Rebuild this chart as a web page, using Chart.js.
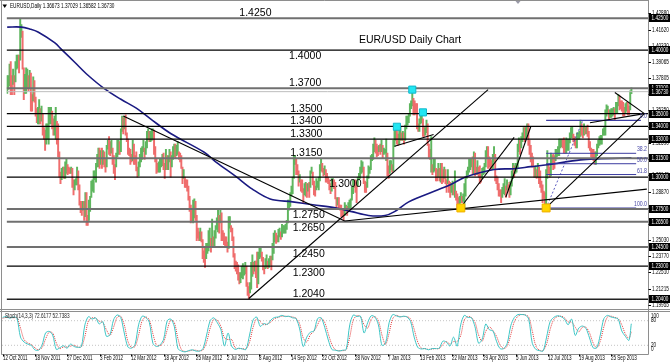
<!DOCTYPE html>
<html>
<head>
<meta charset="utf-8">
<script src="https://cdn.jsdelivr.net/npm/chart.js@4.4.1/dist/chart.umd.min.js"></script>
<style>
  html, body { margin:0; padding:0; background:#fff; }
  body { width:670px; height:362px; overflow:hidden; position:relative; }
  canvas { position:absolute; left:0; display:block; }
  #main { top:0; }
  #stoch { top:311px; }
</style>
</head>
<body>
<canvas id="main" width="670" height="311"></canvas>
<canvas id="stoch" width="670" height="51"></canvas>
<script>
// ================= DATA =================
const symbol = 'EURUSD,Daily';
const lastBarOHLC = [1.36673, 1.37029, 1.36582, 1.36730];
const currentPrice = 1.36730;
const chartTitle = 'EUR/USD Daily Chart';

// daily lows / highs, 12 Oct 2011 .. 18 Oct 2013 (one row per week)
const lows = [
1.3660,1.3690,1.3720,
1.3650,1.3650,1.3730,1.3650,1.3750,
1.3850,1.3860,1.3820,1.3920,1.4100,
1.3850,1.3610,1.3660,1.3660,1.3700,
1.3680,1.3700,1.3520,1.3520,1.3600,
1.3590,1.3480,1.3430,1.3420,1.3420,
1.3420,1.3440,1.3330,1.3300,1.3210,
1.3260,1.3300,1.3260,1.3420,1.3420,
1.3380,1.3330,1.3330,1.3300,1.3260,
1.3160,1.3000,1.2950,1.2980,1.3000,
1.2990,1.2990,1.3030,1.3020,1.3030,
1.3030,1.3030,1.2920,1.2860,1.2900,
1.2940,1.2940,1.2900,1.2780,1.2720,
1.2700,1.2740,1.2660,1.2690,1.2620,
1.2620,1.2660,1.2730,1.2840,1.2890,
1.2880,1.2980,1.2960,1.3080,1.3080,
1.3070,1.3100,1.3070,1.3100,1.3080,
1.3040,1.3080,1.3220,1.3180,1.3170,
1.3190,1.3100,1.3030,1.2980,1.3080,
1.3160,1.3180,1.3180,1.3200,1.3360,
1.3340,1.3380,1.3330,1.3280,1.3180,
1.3170,1.3100,1.3120,1.3130,1.3100,
1.3100,1.3050,1.3000,1.3010,1.3080,
1.3120,1.3140,1.3200,1.3140,1.3180,
1.3230,1.3300,1.3280,1.3280,1.3290,
1.3300,1.3180,1.3120,1.3030,1.3040,
1.3040,1.3040,1.3080,1.3090,1.3060,
1.2990,1.3060,1.3060,1.3060,1.3120,
1.3000,1.3080,1.3140,1.3160,1.3150,
1.3170,1.3180,1.3140,1.3120,1.3070,
1.2950,1.2990,1.2920,1.2920,1.2890,
1.2820,1.2730,1.2640,1.2650,1.2640,
1.2680,1.2660,1.2500,1.2520,1.2500,
1.2500,1.2490,1.2360,1.2330,1.2290,
1.2360,1.2400,1.2420,1.2450,1.2410,
1.2450,1.2450,1.2450,1.2520,1.2590,
1.2570,1.2560,1.2640,1.2500,1.2500,
1.2470,1.2460,1.2450,1.2410,1.2440,
1.2600,1.2570,1.2500,1.2370,1.2280,
1.2260,1.2240,1.2190,1.2160,1.2170,
1.2210,1.2200,1.2230,1.2240,1.2140,
1.2070,1.2040,1.2090,1.2120,1.2220,
1.2240,1.2260,1.2210,1.2130,1.2160,
1.2360,1.2370,1.2340,1.2270,1.2240,
1.2280,1.2290,1.2280,1.2290,1.2310,
1.2270,1.2350,1.2400,1.2490,1.2480,
1.2490,1.2490,1.2530,1.2510,1.2530,
1.2560,1.2560,1.2560,1.2590,1.2640,
1.2740,1.2770,1.2850,1.2870,1.2990,
1.3100,1.3020,1.3020,1.2930,1.2960,
1.2890,1.2880,1.2800,1.2860,1.2850,
1.2840,1.2890,1.2840,1.2920,1.3030,
1.2940,1.2860,1.2850,1.2900,1.2920,
1.2900,1.2970,1.3050,1.3040,1.3010,
1.3020,1.2960,1.2960,1.2950,1.2900,
1.2870,1.2890,1.2930,1.2910,1.2830,
1.2760,1.2780,1.2760,1.2740,1.2690,
1.2690,1.2660,1.2700,1.2740,1.2700,
1.2740,1.2740,1.2760,1.2820,1.2870,
1.2920,1.2880,1.2800,1.2930,1.2980,
1.2990,1.3030,1.3040,1.2950,1.2880,
1.2880,1.2920,1.2990,1.3030,1.3060,
1.3130,1.3140,1.3200,1.3190,1.3160,
1.3170,1.3200,1.3180,1.3200,1.3150,
1.3180,1.3190,1.3130,1.3010,1.2990,
1.3030,1.3060,1.3040,1.3050,1.3240,
1.3290,1.3260,1.3250,1.3260,1.3290,
1.3290,1.3290,1.3260,1.3290,1.3380,
1.3410,1.3430,1.3480,1.3540,1.3560,
1.3490,1.3490,1.3500,1.3380,1.3360,
1.3360,1.3420,1.3430,1.3320,1.3320,
1.3330,1.3350,1.3250,1.3150,1.3140,
1.3040,1.3020,1.3040,1.3050,1.2970,
1.2970,1.3000,1.2970,1.2960,1.2950,
1.2960,1.2990,1.2950,1.2880,1.2950,
1.2880,1.2840,1.2880,1.2860,1.2860,
1.2840,1.2820,1.2750,1.2760,1.2780,
1.2800,1.2800,1.2810,1.2750,1.2850,
1.2990,1.3020,1.3040,1.3060,1.3080,
1.3020,1.3020,1.3010,1.3020,1.3020,
1.3000,1.2950,1.2960,1.2990,1.3020,
1.3030,1.3080,1.3150,1.3070,1.3080,
1.3060,1.3060,1.3060,1.3120,1.2970,
1.2950,1.2900,1.2850,1.2850,1.2800,
1.2840,1.2870,1.2860,1.2840,1.2900,
1.2890,1.2840,1.2860,1.2930,1.2990,
1.3000,1.3030,1.3040,1.3070,1.3200,
1.3180,1.3230,1.3280,1.3300,1.3280,
1.3300,1.3340,1.3250,1.3180,1.3120,
1.3080,1.3080,1.3000,1.3000,1.2990,
1.3000,1.2950,1.2920,1.2880,1.2800,
1.2830,1.2750,1.2770,1.2990,1.3030,
1.3000,1.3010,1.3100,1.3060,1.3070,
1.3130,1.3160,1.3170,1.3170,1.3230,
1.3240,1.3230,1.3190,1.3190,1.3190,
1.3210,1.3210,1.3270,1.3310,1.3310,
1.3280,1.3250,1.3230,1.3230,1.3300,
1.3300,1.3320,1.3330,1.3310,1.3330,
1.3340,1.3340,1.3320,1.3230,1.3210,
1.3160,1.3150,1.3130,1.3100,1.3100,
1.3170,1.3230,1.3250,1.3260,1.3260,
1.3330,1.3330,1.3330,1.3480,1.3500,
1.3460,1.3470,1.3470,1.3480,1.3490,
1.3450,1.3500,1.3500,1.3560,1.3530,
1.3540,1.3520,1.3480,1.3480,1.3500,
1.3520,1.3490,1.3490,1.3530,1.3658
];
const highs = [
1.3800,1.3800,1.3890,
1.3910,1.3800,1.3850,1.3800,1.3910,
1.3960,1.3960,1.3960,1.4247,1.4200,
1.4150,1.3860,1.3810,1.3860,1.3850,
1.3800,1.3840,1.3820,1.3650,1.3790,
1.3760,1.3630,1.3540,1.3550,1.3610,
1.3540,1.3560,1.3500,1.3390,1.3370,
1.3420,1.3420,1.3550,1.3550,1.3550,
1.3520,1.3460,1.3480,1.3550,1.3440,
1.3420,1.3200,1.3040,1.3070,1.3080,
1.3080,1.3120,1.3140,1.3100,1.3080,
1.3070,1.3080,1.3070,1.2980,1.2980,
1.2990,1.3080,1.3050,1.2940,1.2810,
1.2810,1.2810,1.2810,1.2880,1.2880,
1.2700,1.2820,1.2850,1.2970,1.2980,
1.3050,1.3050,1.3110,1.3180,1.3230,
1.3230,1.3210,1.3230,1.3210,1.3200,
1.3140,1.3250,1.3290,1.3320,1.3280,
1.3290,1.3230,1.3170,1.3100,1.3190,
1.3290,1.3290,1.3280,1.3380,1.3480,
1.3470,1.3480,1.3490,1.3350,1.3300,
1.3230,1.3220,1.3180,1.3290,1.3260,
1.3170,1.3200,1.3080,1.3120,1.3180,
1.3230,1.3240,1.3290,1.3230,1.3280,
1.3360,1.3380,1.3360,1.3360,1.3380,
1.3380,1.3370,1.3240,1.3140,1.3110,
1.3120,1.3140,1.3140,1.3180,1.3190,
1.3110,1.3220,1.3170,1.3170,1.3220,
1.3200,1.3170,1.3240,1.3260,1.3260,
1.3250,1.3280,1.3200,1.3190,1.3170,
1.3080,1.3060,1.3000,1.2980,1.2980,
1.2930,1.2850,1.2780,1.2750,1.2820,
1.2830,1.2810,1.2700,1.2600,1.2570,
1.2600,1.2570,1.2510,1.2420,1.2450,
1.2480,1.2480,1.2580,1.2600,1.2520,
1.2670,1.2530,1.2580,1.2620,1.2680,
1.2750,1.2700,1.2740,1.2720,1.2580,
1.2560,1.2530,1.2530,1.2490,1.2690,
1.2690,1.2620,1.2600,1.2530,1.2400,
1.2340,1.2330,1.2310,1.2250,1.2250,
1.2300,1.2320,1.2300,1.2330,1.2300,
1.2170,1.2140,1.2170,1.2330,1.2390,
1.2330,1.2340,1.2340,1.2410,1.2410,
1.2440,1.2440,1.2410,1.2370,1.2300,
1.2360,1.2390,1.2340,1.2360,1.2380,
1.2380,1.2480,1.2560,1.2580,1.2560,
1.2540,1.2590,1.2600,1.2570,1.2630,
1.2620,1.2620,1.2630,1.2660,1.2820,
1.2820,1.2880,1.2930,1.3000,1.3170,
1.3170,1.3140,1.3100,1.3050,1.3020,
1.2980,1.2980,1.2910,1.2950,1.2960,
1.2950,1.2950,1.2960,1.3050,1.3080,
1.3040,1.2970,1.2930,1.2990,1.2970,
1.3000,1.3100,1.3140,1.3110,1.3070,
1.3090,1.3060,1.3030,1.3000,1.2980,
1.2950,1.2990,1.2990,1.2980,1.2960,
1.2840,1.2840,1.2840,1.2780,1.2780,
1.2740,1.2740,1.2800,1.2780,1.2770,
1.2800,1.2820,1.2830,1.2920,1.2980,
1.2980,1.2980,1.2960,1.3000,1.3030,
1.3080,1.3130,1.3120,1.3080,1.2970,
1.2960,1.3010,1.3090,1.3080,1.3170,
1.3180,1.3260,1.3310,1.3290,1.3260,
1.3240,1.3250,1.3260,1.3290,1.3250,
1.3230,1.3220,1.3300,1.3190,1.3090,
1.3130,1.3130,1.3100,1.3290,1.3370,
1.3400,1.3400,1.3340,1.3390,1.3400,
1.3350,1.3360,1.3350,1.3410,1.3480,
1.3480,1.3500,1.3580,1.3600,1.3710,
1.3620,1.3600,1.3580,1.3580,1.3420,
1.3460,1.3480,1.3520,1.3460,1.3390,
1.3390,1.3450,1.3420,1.3260,1.3220,
1.3320,1.3100,1.3140,1.3140,1.3070,
1.3060,1.3110,1.3070,1.3110,1.3110,
1.3060,1.3080,1.3060,1.2980,1.3060,
1.2970,1.2960,1.2950,1.2970,1.2940,
1.3050,1.2890,1.2870,1.2840,1.2850,
1.2880,1.2850,1.2870,1.2950,1.3000,
1.3050,1.3080,1.3140,1.3140,1.3140,
1.3160,1.3200,1.3190,1.3080,1.3130,
1.3080,1.3090,1.3020,1.3070,1.3080,
1.3110,1.3210,1.3240,1.3240,1.3160,
1.3140,1.3130,1.3180,1.3240,1.3180,
1.3010,1.3000,1.2950,1.2900,1.2900,
1.2920,1.2950,1.2990,1.2930,1.2980,
1.2940,1.2960,1.2970,1.3050,1.3110,
1.3090,1.3110,1.3110,1.3260,1.3310,
1.3290,1.3320,1.3350,1.3390,1.3390,
1.3390,1.3420,1.3420,1.3290,1.3250,
1.3190,1.3160,1.3080,1.3090,1.3060,
1.3110,1.3080,1.3050,1.2970,1.2940,
1.2890,1.2880,1.3060,1.3210,1.3100,
1.3080,1.3190,1.3170,1.3180,1.3170,
1.3220,1.3220,1.3240,1.3300,1.3300,
1.3300,1.3300,1.3310,1.3290,1.3310,
1.3300,1.3300,1.3350,1.3390,1.3400,
1.3340,1.3320,1.3300,1.3350,1.3350,
1.3360,1.3450,1.3420,1.3390,1.3420,
1.3390,1.3400,1.3410,1.3360,1.3280,
1.3230,1.3220,1.3220,1.3200,1.3200,
1.3260,1.3290,1.3320,1.3330,1.3330,
1.3380,1.3390,1.3530,1.3570,1.3560,
1.3530,1.3530,1.3540,1.3540,1.3550,
1.3540,1.3590,1.3590,1.3650,1.3640,
1.3600,1.3600,1.3590,1.3550,1.3580,
1.3590,1.3590,1.3560,1.3680,1.3703
];

// 200-day moving average, read at these bars
const maBars   = [0,12,19,26,40,46,57,67,82,96,109,121,138,166,176,193,207,222,241,258,277,291,305,319,327,339,361,375,386,411,428,442,456,484,498,527];
const maValues = [1.4181,1.4181,1.4166,1.4142,1.4058,1.4004,1.3904,1.3812,1.3697,1.3613,1.3543,1.3459,1.3344,1.3198,1.3121,1.3006,1.2906,1.2829,1.2806,1.2783,1.2760,1.2729,1.2699,1.2699,1.2729,1.2806,1.2891,1.2944,1.2998,1.3060,1.3067,1.3083,1.3098,1.3136,1.3144,1.3152];

// horizontal support / resistance levels
const levels = [1.4250,1.4000,1.3700,1.3500,1.3400,1.3300,1.3150,1.3000,1.2750,1.2650,1.2450,1.2300,1.2040];

// trendlines [bar, price] -> [bar, price]
const trendFrom = [[98,1.3482],[285,1.2655],[204,1.2046],[327,1.3244],[382,1.2752],[421,1.2844],[455,1.2760],[513,1.3666],[492,1.3428]];
const trendTo   = [[285,1.2655],[540,1.2906],[406,1.3689],[360,1.3336],[428,1.3313],[442,1.3397],[538,1.3500],[538,1.3500],[538,1.3500]];

// Fibonacci retracement (Jul 2013 low -> Aug 2013 high)
const fibNames  = ['0.0','38.2','50.0','61.8','100.0'];
const fibPrices = [1.3447,1.3188,1.3106,1.3021,1.2756];
const fibStartBar = 455, fibEndBar = 531, fibZeroEndBar = 535;
const fibDiagBars = [455,486];

// highlighted swing points
const cyanBars = [342,351,329];   const cyanPrices = [1.3689,1.3510,1.3397];
const yellowBars = [383,455];     const yellowPrices = [1.2758,1.2758];

// right price-axis labels
const axisTicks = [1.42880,1.41620,1.40330,1.39065,1.37805,1.36510,1.35250,1.33965,1.32690,1.31420,1.30145,1.28870,1.27595,1.26325,1.25030,1.23770,1.22510,1.21215,1.19955];

// time axis labels
const dateBars   = [0,27,54,82,108,135,162,188,215,242,268,295,323,350,377,403,430,457,483,510];
const dateLabels = ['12 Oct 2011','18 Nov 2011','27 Dec 2011','3 Feb 2012','12 Mar 2012','18 Apr 2012','25 May 2012','2 Jul 2012','8 Aug 2012','14 Sep 2012','22 Oct 2012','28 Nov 2012','7 Jan 2013','13 Feb 2013','22 Mar 2013','29 Apr 2013','5 Jun 2013','12 Jul 2013','19 Aug 2013','25 Sep 2013'];

// Stochastic(14,3,3), sampled every 3 bars (last sample = last bar)
const stochMain = [88,90,86,89,86,40,28,23,20,9,8,20,50,54,45,10,14,19,13,23,17,15,17,70,90,84,87,72,78,42,46,82,94,88,50,16,13,22,70,91,88,76,25,17,21,35,80,84,65,12,6,4,7,9,6,6,12,45,80,87,75,58,18,50,18,10,13,11,10,45,82,89,66,73,71,82,88,89,93,90,91,87,85,60,17,40,52,55,85,87,64,33,10,8,6,8,10,70,94,90,91,50,75,92,89,70,20,25,75,95,92,89,91,89,78,40,15,11,12,9,12,12,13,30,28,18,40,18,70,93,88,87,65,25,35,72,58,55,30,12,12,25,68,88,95,95,94,84,25,10,7,6,40,78,88,92,90,84,70,84,44,62,67,61,38,14,14,45,85,93,89,87,84,55,42,32,72.6177];
const stochSignal = [86,88,88,87,87,62,34,26,22,14,9,14,35,52,50,26,12,16,16,18,20,16,16,42,80,87,86,79,75,58,44,64,88,91,70,30,15,17,45,80,89,82,48,21,19,28,58,82,75,36,9,5,6,8,8,6,9,28,62,83,81,66,38,34,34,14,12,12,11,28,64,85,78,70,72,77,85,88,91,91,90,89,86,72,38,28,46,54,70,86,76,48,22,9,7,7,9,40,82,92,90,70,62,84,90,80,45,22,50,85,93,90,90,90,84,59,28,13,12,10,11,12,12,22,29,23,29,29,44,82,90,88,76,45,30,54,65,56,42,21,12,18,46,78,91,95,94,89,55,18,8,7,23,59,83,90,91,87,77,77,64,53,64,64,50,26,14,30,65,89,91,88,85,70,48,37,52.7383];
const stochLevels = [80, 20];
const stochParams = '14,3,3';

// ================= RENDERING =================
const lastBar = lows.length - 1;
const X_MIN = -0.5, X_MAX = 541;
const Y_MIN = 1.19993, Y_MAX = 1.43422;
const UP = '#5fb65f', DOWN = '#ef6d6d';
const FONT = '"Liberation Sans", Arial, sans-serif';
const TINY = '6.5px ' + FONT;
const SX = 0.72;

const levelStyle = { // colour / width per level
  color: ['#707070','#000','#707070','#000','#000','#000','#707070','#000','#707070','#707070','#707070','#000','#222'],
  width: [2,1.3,2,1.3,1.3,1.3,2,1.3,2,2,2,1.3,1.6]
};
const levelText = { // bar position and side of each level's text
  bar:   [196,238,238,239,239,239,239,272,241,241,241,241,241],
  below: [false,true,false,false,false,false,false,true,true,true,true,true,false]
};

function txt(ctx, s, x, y, font, color, sx, align, base) {
  ctx.save();
  ctx.font = font; ctx.fillStyle = color;
  ctx.textAlign = align || 'left'; ctx.textBaseline = base || 'middle';
  ctx.translate(x, y); ctx.scale(sx, 1);
  ctx.fillText(s, 0, 0);
  ctx.restore();
}

const mid = i => (lows[i] + highs[i]) / 2;
const seg = (a, b) => [{x: a[0], y: a[1]}, {x: b[0], y: b[1]}];
const flat = (v, a, b) => [{x: a, y: v}, {x: b, y: v}];

const ds = [];
ds.push({
  type: 'bar', order: 10, grouped: false, barThickness: 1.3, borderWidth: 0,
  data: lows.map((lo, i) => ({x: i, y: [lo, highs[i]]})),
  backgroundColor: c => (c.dataIndex > 0 && mid(c.dataIndex) < mid(c.dataIndex - 1)) ? DOWN : UP
});
ds.push({type: 'line', order: 8, data: maBars.map((b, k) => ({x: b, y: maValues[k]})),
  borderColor: '#1a1a82', borderWidth: 1.6, pointRadius: 0, tension: 0.35});
ds.push({type: 'line', order: 7, data: flat(currentPrice, X_MIN, X_MAX), borderColor: '#bdbdbd', borderWidth: 1, pointRadius: 0});
fibPrices.forEach((p, k) => ds.push({type: 'line', order: 6,
  data: flat(p, fibStartBar, k === 0 ? fibZeroEndBar : fibEndBar),
  borderColor: '#3c3ca0', borderWidth: (k === 0 || k === 4) ? 1.4 : 1, pointRadius: 0}));
ds.push({type: 'line', order: 6, data: seg([fibDiagBars[0], fibPrices[4]], [fibDiagBars[1], fibPrices[0]]),
  borderColor: '#5a5ac0', borderWidth: 1, borderDash: [2, 2], pointRadius: 0});
levels.forEach((lv, k) => ds.push({type: 'line', order: 5, data: flat(lv, X_MIN, X_MAX),
  borderColor: levelStyle.color[k], borderWidth: levelStyle.width[k], pointRadius: 0}));
trendFrom.forEach((a, k) => ds.push({type: 'line', order: 4, data: seg(a, trendTo[k]),
  borderColor: '#000', borderWidth: 1.1, pointRadius: 0}));
ds.push({type: 'line', order: 1, showLine: false, data: cyanBars.map((b, k) => ({x: b, y: cyanPrices[k]})),
  pointStyle: 'rect', pointRadius: 5, backgroundColor: '#22e6f2', borderColor: '#10b8cc', borderWidth: 1});
ds.push({type: 'line', order: 1, showLine: false, data: yellowBars.map((b, k) => ({x: b, y: yellowPrices[k]})),
  pointStyle: 'rect', pointRadius: 5.6, backgroundColor: '#ffd400', borderColor: '#f0b000', borderWidth: 1});

const mainDeco = {
  id: 'mainDeco',
  afterDraw(chart) {
    const {ctx} = chart; const x = chart.scales.x, y = chart.scales.y;
    const W = chart.width, H = chart.height;
    ctx.save();
    // frame
    ctx.strokeStyle = '#8e8e8e'; ctx.lineWidth = 1;
    ctx.beginPath();
    ctx.moveTo(1.5, 0); ctx.lineTo(1.5, H);
    ctx.moveTo(648.5, 0); ctx.lineTo(648.5, H);
    ctx.moveTo(0, 0.5); ctx.lineTo(648.5, 0.5);
    ctx.moveTo(0, H - 1.5); ctx.lineTo(W, H - 1.5);
    ctx.stroke();
    // chart-shift marker
    ctx.fillStyle = '#9a9aa8';
    ctx.beginPath(); ctx.moveTo(515.5, 1); ctx.lineTo(520.5, 1); ctx.lineTo(518, 4); ctx.closePath(); ctx.fill();
    // header
    ctx.fillStyle = '#000';
    ctx.beginPath(); ctx.moveTo(2.5, 4.5); ctx.lineTo(7, 4.5); ctx.lineTo(4.75, 8); ctx.closePath(); ctx.fill();
    txt(ctx, symbol + ' ' + lastBarOHLC.map(v => v.toFixed(5)).join(' '), 10, 6.5, TINY, '#000', SX);
    // title
    txt(ctx, chartTitle, 359, 40, '10.5px ' + FONT, '#000', 1);
    // level texts
    levels.forEach((lv, k) => {
      const py = y.getPixelForValue(lv), px = x.getPixelForValue(levelText.bar[k]);
      txt(ctx, lv.toFixed(4), px, py + (levelText.below[k] ? 6.5 : -5), '10.5px ' + FONT, '#000', 1);
    });
    // fib texts
    fibNames.forEach((n, k) => {
      txt(ctx, n, 647, y.getPixelForValue(fibPrices[k]) - 0.5, TINY, '#4646a6', 0.8, 'right', 'bottom');
    });
    // right axis ticks
    ctx.strokeStyle = '#000'; ctx.lineWidth = 1;
    axisTicks.forEach(v => {
      const py = Math.round(y.getPixelForValue(v)) + 0.5;
      ctx.beginPath(); ctx.moveTo(648.5, py); ctx.lineTo(651, py); ctx.stroke();
      txt(ctx, v.toFixed(5), 652, py, TINY, '#000', SX);
    });
    // boxed level prices
    levels.concat([currentPrice]).forEach(v => {
      const py = Math.round(y.getPixelForValue(v));
      ctx.fillStyle = '#000'; ctx.fillRect(649, py - 4, 21, 8);
      txt(ctx, v.toFixed(5), 651.5, py + 0.5, TINY, '#fff', SX);
    });
    ctx.restore();
  }
};

new Chart(document.getElementById('main'), {
  type: 'bar',
  data: {datasets: ds},
  options: {
    responsive: false, animation: false, devicePixelRatio: 1,
    layout: {padding: {left: 2, right: 22, top: 3, bottom: 3}},
    scales: {
      x: {type: 'linear', display: false, min: X_MIN, max: X_MAX, offset: false},
      y: {type: 'linear', display: false, min: Y_MIN, max: Y_MAX, beginAtZero: false}
    },
    plugins: {legend: {display: false}, tooltip: {enabled: false}}
  },
  plugins: [mainDeco]
});

// ---- stochastic panel ----
const stochDays = stochMain.map((_, k) => k < stochMain.length - 1 ? k * 3 : lastBar);
const stochDeco = {
  id: 'stochDeco',
  afterDraw(chart) {
    const {ctx} = chart; const x = chart.scales.x, y = chart.scales.y;
    ctx.save();
    ctx.strokeStyle = '#8e8e8e'; ctx.lineWidth = 1;
    ctx.beginPath();
    ctx.moveTo(0, 0.5); ctx.lineTo(670, 0.5);
    ctx.moveTo(1.5, 0); ctx.lineTo(1.5, 43.5);
    ctx.moveTo(648.5, 0); ctx.lineTo(648.5, 43.5);
    ctx.moveTo(1.5, 43.5); ctx.lineTo(648.5, 43.5);
    ctx.stroke();
    const last = stochMain.length - 1;
    txt(ctx, 'Stoch(' + stochParams + ') ' + stochMain[last].toFixed(4) + ' ' + stochSignal[last].toFixed(4), 5, 5, TINY, '#222', SX);
    [[100, 5], [80, y.getPixelForValue(80)], [20, y.getPixelForValue(20)], [0, 38.5]].forEach(([v, py]) => {
      txt(ctx, String(v), 651, py, TINY, '#000', SX);
    });
    ctx.strokeStyle = '#000';
    dateBars.forEach((b, k) => {
      const px = Math.round(x.getPixelForValue(b)) + 0.5;
      ctx.beginPath(); ctx.moveTo(px, 43.5); ctx.lineTo(px, 45.5); ctx.stroke();
      txt(ctx, dateLabels[k], px - 0.5, 47, TINY, '#000', 0.7);
    });
    ctx.restore();
  }
};
new Chart(document.getElementById('stoch'), {
  type: 'line',
  data: {datasets: [
    {data: flat(stochLevels[0], X_MIN, X_MAX), borderColor: '#c4c4c4', borderWidth: 1, borderDash: [1, 2], pointRadius: 0, order: 5},
    {data: flat(stochLevels[1], X_MIN, X_MAX), borderColor: '#c4c4c4', borderWidth: 1, borderDash: [1, 2], pointRadius: 0, order: 5},
    {data: stochDays.map((d, k) => ({x: d, y: stochSignal[k]})), borderColor: '#e23a3a', borderWidth: 1, borderDash: [1, 1], pointRadius: 0, tension: 0.3, order: 2},
    {data: stochDays.map((d, k) => ({x: d, y: stochMain[k]})), borderColor: '#3ec6c6', borderWidth: 1, pointRadius: 0, tension: 0.3, order: 1}
  ]},
  options: {
    responsive: false, animation: false, devicePixelRatio: 1,
    layout: {padding: {left: 2, right: 22, top: 1, bottom: 8}},
    scales: {
      x: {type: 'linear', display: false, min: X_MIN, max: X_MAX},
      y: {type: 'linear', display: false, min: -1.2, max: 101.2}
    },
    plugins: {legend: {display: false}, tooltip: {enabled: false}}
  },
  plugins: [stochDeco]
});
</script>
</body>
</html>
